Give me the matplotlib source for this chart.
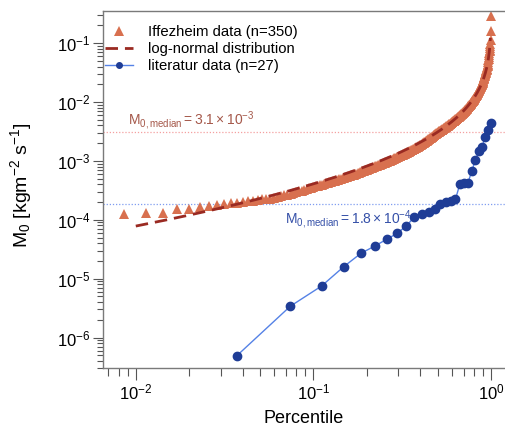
import matplotlib
matplotlib.use("Agg")
import matplotlib.pyplot as plt
import numpy as np
from matplotlib.ticker import LogLocator, NullFormatter
from matplotlib.lines import Line2D
from statistics import NormalDist

plt.rcParams['font.family'] = 'Liberation Sans'
plt.rcParams['mathtext.fontset'] = 'custom'
plt.rcParams['mathtext.rm'] = 'Liberation Sans'
plt.rcParams['mathtext.it'] = 'Liberation Sans:italic'
plt.rcParams['mathtext.bf'] = 'Liberation Sans:bold'

# Iffezheim erosion rates, sorted, log10(M0) (n=350)
iffezheim_log10 = [
    -4.02, -3.96, -3.91, -3.89, -3.88, -3.81, -3.81, -3.79, -3.76, -3.75,
    -3.74, -3.72, -3.71, -3.69, -3.685, -3.68, -3.665, -3.655, -3.645, -3.64,
    -3.626, -3.612, -3.598, -3.585, -3.571, -3.558, -3.544, -3.531, -3.518, -3.505,
    -3.492, -3.480, -3.468, -3.456, -3.444, -3.434, -3.423, -3.413, -3.402, -3.392,
    -3.381, -3.371, -3.362, -3.354, -3.345, -3.336, -3.328, -3.319, -3.310, -3.302,
    -3.293, -3.285, -3.277, -3.270, -3.262, -3.254, -3.247, -3.239, -3.231, -3.224,
    -3.216, -3.208, -3.201, -3.193, -3.185, -3.178, -3.170, -3.162, -3.155, -3.147,
    -3.140, -3.134, -3.127, -3.121, -3.114, -3.107, -3.101, -3.094, -3.087, -3.081,
    -3.074, -3.068, -3.061, -3.054, -3.048, -3.041, -3.035, -3.029, -3.023, -3.017,
    -3.011, -3.005, -2.999, -2.993, -2.988, -2.982, -2.976, -2.970, -2.964, -2.958,
    -2.952, -2.946, -2.940, -2.935, -2.929, -2.923, -2.917, -2.912, -2.906, -2.900,
    -2.894, -2.889, -2.883, -2.877, -2.871, -2.866, -2.860, -2.854, -2.848, -2.843,
    -2.837, -2.831, -2.825, -2.820, -2.814, -2.808, -2.802, -2.797, -2.791, -2.785,
    -2.780, -2.774, -2.768, -2.762, -2.757, -2.751, -2.745, -2.739, -2.734, -2.728,
    -2.722, -2.716, -2.709, -2.703, -2.697, -2.691, -2.685, -2.679, -2.672, -2.666,
    -2.660, -2.654, -2.648, -2.642, -2.635, -2.629, -2.623, -2.617, -2.611, -2.605,
    -2.598, -2.592, -2.586, -2.580, -2.574, -2.567, -2.561, -2.555, -2.549, -2.543,
    -2.536, -2.530, -2.524, -2.518, -2.512, -2.507, -2.503, -2.498, -2.494, -2.489,
    -2.485, -2.480, -2.476, -2.471, -2.467, -2.462, -2.458, -2.453, -2.448, -2.444,
    -2.439, -2.435, -2.430, -2.425, -2.420, -2.415, -2.410, -2.405, -2.400, -2.395,
    -2.390, -2.385, -2.380, -2.375, -2.370, -2.365, -2.360, -2.355, -2.350, -2.345,
    -2.340, -2.335, -2.330, -2.325, -2.321, -2.316, -2.311, -2.306, -2.301, -2.296,
    -2.291, -2.286, -2.281, -2.276, -2.272, -2.267, -2.262, -2.257, -2.252, -2.246,
    -2.241, -2.236, -2.231, -2.226, -2.221, -2.215, -2.210, -2.205, -2.200, -2.195,
    -2.190, -2.184, -2.179, -2.174, -2.169, -2.163, -2.157, -2.151, -2.145, -2.140,
    -2.134, -2.128, -2.122, -2.116, -2.110, -2.104, -2.098, -2.092, -2.086, -2.081,
    -2.075, -2.069, -2.062, -2.056, -2.049, -2.043, -2.036, -2.030, -2.023, -2.017,
    -2.010, -2.003, -1.997, -1.990, -1.984, -1.977, -1.971, -1.964, -1.958, -1.951,
    -1.943, -1.936, -1.928, -1.920, -1.913, -1.905, -1.897, -1.890, -1.882, -1.874,
    -1.867, -1.859, -1.851, -1.844, -1.836, -1.828, -1.821, -1.811, -1.802, -1.792,
    -1.783, -1.773, -1.764, -1.754, -1.745, -1.735, -1.725, -1.716, -1.706, -1.697,
    -1.687, -1.678, -1.668, -1.659, -1.649, -1.636, -1.623, -1.610, -1.597, -1.585,
    -1.572, -1.559, -1.545, -1.531, -1.517, -1.502, -1.488, -1.474, -1.460, -1.450,
    -1.44, -1.43, -1.41, -1.39, -1.37, -1.35, -1.32, -1.29, -1.26, -1.23,
    -1.20, -1.17, -1.14, -1.11, -1.08, -1.05, -1.01, -0.95, -0.79, -0.54,
]

# literature data (n=27), M0 in kg m^-2 s^-1
literatur_m0 = [
    4.9e-7, 3.4e-6, 7.5e-6, 1.6e-5, 2.7e-5, 3.6e-5, 4.7e-5, 5.9e-5, 7.9e-5,
    1.12e-4, 1.24e-4, 1.34e-4, 1.52e-4, 1.82e-4, 1.97e-4, 2.08e-4, 2.22e-4,
    4.03e-4, 4.15e-4, 4.25e-4, 6.7e-4, 1.03e-3, 1.47e-3, 1.73e-3, 2.56e-3,
    3.33e-3, 4.33e-3,
]

# log-normal fit
lognorm_median = 3.1e-3
lognorm_sigma10 = 0.687
fit_p_min, fit_p_max = 0.01, 0.99

iff_m0 = 10 ** np.array(iffezheim_log10)
iff_p = np.arange(1, len(iff_m0) + 1) / len(iff_m0)
lit_m0 = np.array(literatur_m0)
lit_p = np.arange(1, len(lit_m0) + 1) / len(lit_m0)

fit_p = np.linspace(fit_p_min, fit_p_max, 400)
fit_z = np.array([NormalDist().inv_cdf(v) for v in fit_p])
fit_m0 = lognorm_median * 10 ** (lognorm_sigma10 * fit_z)

iff_median = np.median(iff_m0)
lit_median = np.median(lit_m0)

c_iff = '#d8704f'
c_fit = '#9a2a22'
c_lit_line = '#5582e6'
c_lit_dot = '#1f3d96'

fig = plt.figure(figsize=(5.05, 4.3), dpi=100)
ax = fig.add_axes([0.204, 0.1435, 0.796, 0.8305])
ax.set_xscale('log')
ax.set_yscale('log')

ax.axhline(iff_median, color='#f4a0a0', lw=0.9, ls=(0, (1, 1.5)), zorder=1)
ax.axhline(lit_median, color='#7f9cf0', lw=0.9, ls=(0, (1, 1.5)), zorder=1)

ax.plot(iff_p, iff_m0, ls='none', marker='^', ms=6.5, color=c_iff,
        mew=0, zorder=2)
ax.plot(fit_p, fit_m0, color=c_fit, lw=2, dashes=(4.5, 2.5), zorder=3)
ax.plot(lit_p, lit_m0, color=c_lit_line, lw=1, marker='o', ms=6,
        mfc=c_lit_dot, mec=c_lit_dot, zorder=4)

ax.text(0.00905, 4.0e-3, r'$\mathrm{M_{0,median}} = 3.1\times10^{-3}$',
        color='#a5584a', fontsize=10, va='baseline', ha='left')
ax.text(0.069, 8.5e-5, r'$\mathrm{M_{0,median}} = 1.8\times10^{-4}$',
        color='#3550a8', fontsize=10, va='baseline', ha='left')

ax.set_xlim(0.00654, 1.197)
ax.set_ylim(3.0e-7, 0.35)

ax.xaxis.set_major_locator(LogLocator(base=10, numticks=10))
ax.xaxis.set_minor_locator(LogLocator(base=10, subs=np.arange(2, 10), numticks=10))
ax.yaxis.set_major_locator(LogLocator(base=10, numticks=20))
ax.yaxis.set_minor_locator(LogLocator(base=10, subs=np.arange(2, 10), numticks=20))
ax.xaxis.set_minor_formatter(NullFormatter())
ax.yaxis.set_minor_formatter(NullFormatter())

for side in ['left', 'bottom', 'top']:
    ax.spines[side].set_color('#7a7a7a')
    ax.spines[side].set_linewidth(1.0)
ax.spines['right'].set_visible(False)

ax.tick_params(axis='x', which='major', direction='out', length=8.5, width=0.8,
               color='#555555', labelsize=12, pad=2)
ax.tick_params(axis='x', which='minor', direction='out', length=5.5, width=0.8,
               color='#555555')
ax.tick_params(axis='y', which='major', direction='out', length=7, width=0.8,
               color='#555555', labelsize=12, pad=2)
ax.tick_params(axis='y', which='minor', direction='out', length=4.5, width=0.8,
               color='#555555')

ax.set_xlabel('Percentile', fontsize=13, labelpad=5)
ax.set_ylabel(r'M$_0$ [kgm$^{-2}$ s$^{-1}$]', fontsize=14)
ax.yaxis.set_label_coords(-0.172, 0.513)

handles = [
    Line2D([], [], ls='none', marker='^', ms=6.5, color=c_iff, mew=0),
    Line2D([], [], color=c_fit, lw=2, dashes=(4.5, 2.5)),
    Line2D([], [], color=c_lit_line, lw=1, marker='o', ms=4,
           mfc=c_lit_dot, mec=c_lit_dot),
]
labels = ['Iffezheim data (n=350)', 'log-normal distribution',
          'literatur data (n=27)']
ax.legend(handles, labels, loc='upper left', bbox_to_anchor=(0.005, 0.96),
          frameon=False, fontsize=10.7, handlelength=1.9, handletextpad=1.0,
          labelspacing=0.2, borderpad=0, borderaxespad=0, numpoints=1)

fig.savefig('out.png', dpi=100)
